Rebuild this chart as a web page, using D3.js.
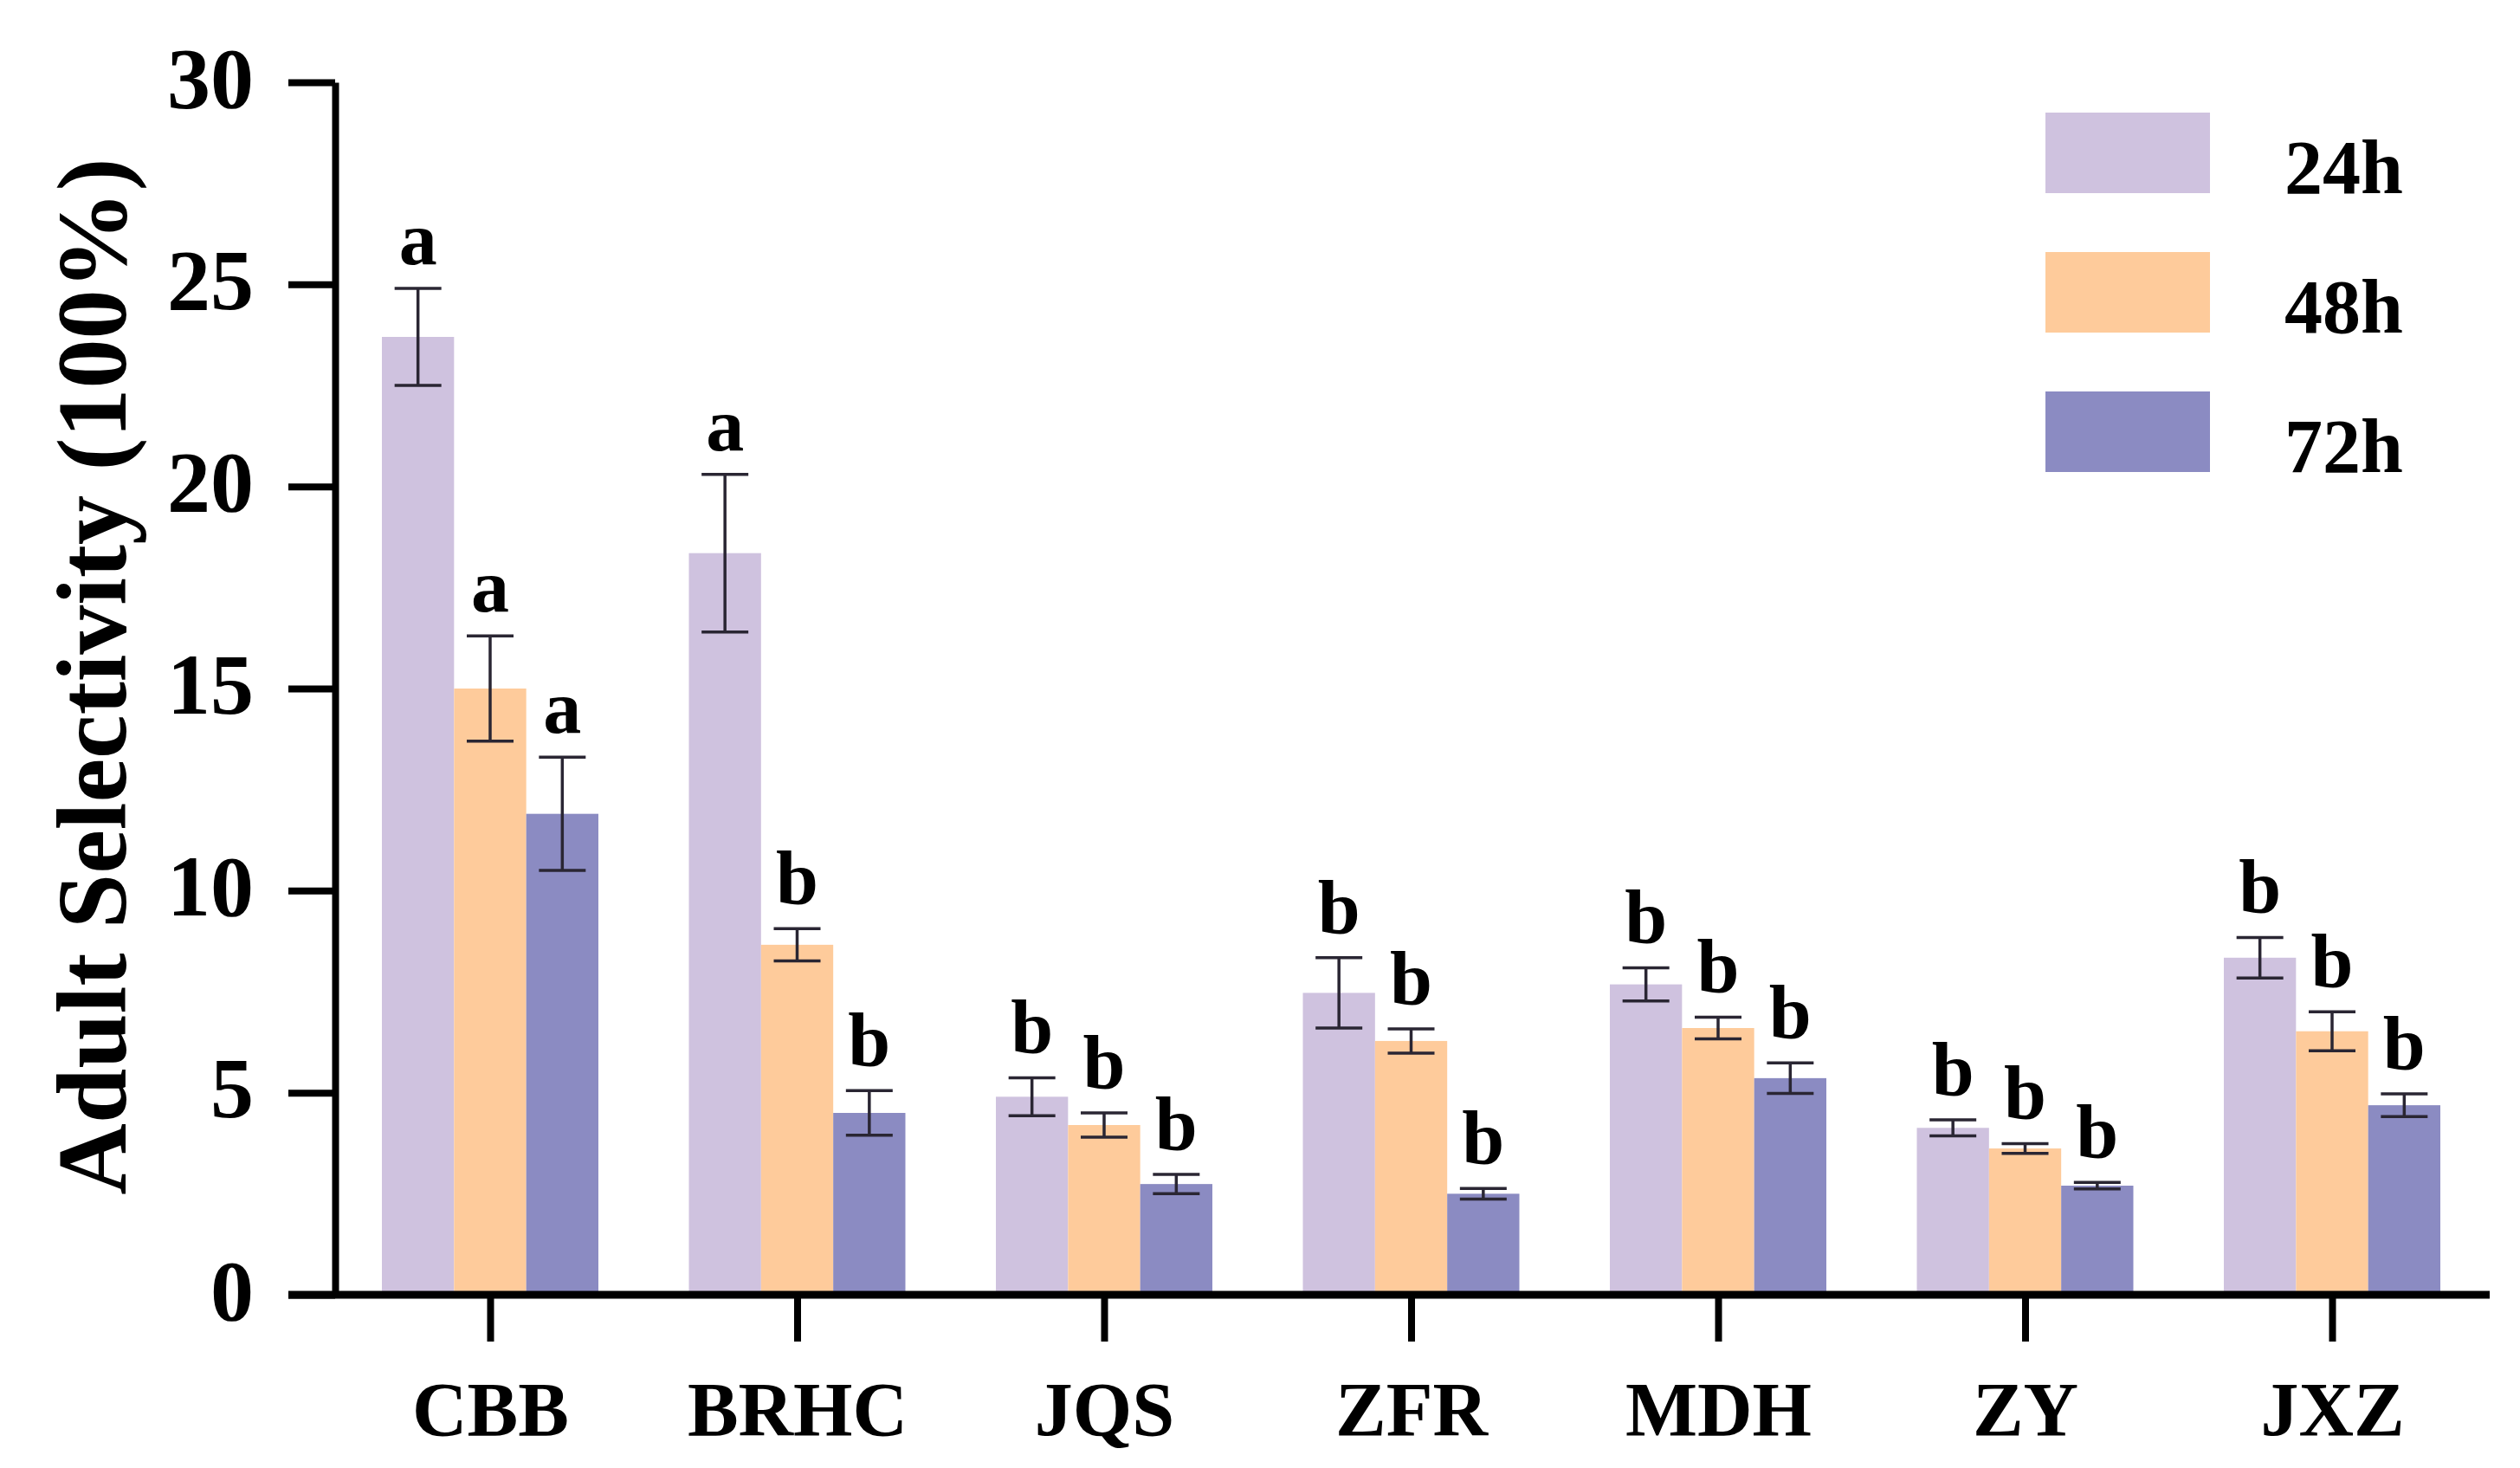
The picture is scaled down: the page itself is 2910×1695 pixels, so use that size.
<!DOCTYPE html>
<html>
<head>
<meta charset="utf-8">
<script src="https://cdn.jsdelivr.net/npm/d3@7"></script>
<style>
  body { margin: 0; background: #fff; }
  text { font-family: "Liberation Serif", "Times New Roman", serif; font-weight: bold; }
</style>
</head>
<body>
<svg id="chart" width="2910" height="1695"></svg>
<script>
// Data
const categories = ['CBB', 'BRHC', 'JQS', 'ZFR', 'MDH', 'ZY', 'JXZ'];
const series = ['24h', '48h', '72h'];
const mean24 = [23.7, 18.35, 4.9, 7.47, 7.68, 4.13, 8.34];
const mean48 = [15.0, 8.66, 4.2, 6.28, 6.6, 3.62, 6.52];
const mean72 = [11.9, 4.5, 2.74, 2.5, 5.36, 2.7, 4.69];
const err24 = [1.2, 1.95, 0.47, 0.87, 0.41, 0.2, 0.5];
const err48 = [1.3, 0.4, 0.3, 0.3, 0.27, 0.12, 0.48];
const err72 = [1.4, 0.55, 0.24, 0.13, 0.38, 0.08, 0.28];
const letters24 = ['a', 'a', 'b', 'b', 'b', 'b', 'b'];
const letters48 = ['a', 'b', 'b', 'b', 'b', 'b', 'b'];
const letters72 = ['a', 'b', 'b', 'b', 'b', 'b', 'b'];
const yTicks = [0, 5, 10, 15, 20, 25, 30];
const colors = ['#cfc2df', '#fecb9b', '#8b8bc2'];

const means = [mean24, mean48, mean72];
const errs = [err24, err48, err72];
const letters = [letters24, letters48, letters72];

const stage = d3.select('#chart');

// Scales
const y = d3.scaleLinear().domain([0, 30]).range([1495, 95]);
const x = d3.scalePoint().domain(categories).range([566, 2693]);
const xs = d3.scaleBand().domain(series).range([-125, 125]);
const color = d3.scaleOrdinal().domain(series).range(colors);

// One record per bar
const bars = [];
categories.forEach((c, i) => {
  series.forEach((s, j) => {
    bars.push({cat: c, s, v: means[j][i], e: errs[j][i], l: letters[j][i]});
  });
});
const cx = d => x(d.cat) + xs(d.s) + xs.bandwidth() / 2;
const cap = 27;

// Bars
stage.append('g').selectAll('rect')
  .data(bars)
  .join('rect')
  .attr('x', d => x(d.cat) + xs(d.s))
  .attr('width', xs.bandwidth())
  .attr('y', d => y(d.v))
  .attr('height', d => y(0) - y(d.v))
  .style('fill', d => color(d.s));

// Error bars
const eb = stage.append('g')
  .style('stroke', '#2a2633')
  .style('stroke-width', 3.5);
eb.selectAll('line.v')
  .data(bars)
  .join('line')
  .attr('class', 'v')
  .attr('x1', cx).attr('x2', cx)
  .attr('y1', d => y(d.v + d.e))
  .attr('y2', d => y(d.v - d.e));
eb.selectAll('line.t')
  .data(bars)
  .join('line')
  .attr('class', 't')
  .attr('x1', d => cx(d) - cap).attr('x2', d => cx(d) + cap)
  .attr('y1', d => y(d.v + d.e)).attr('y2', d => y(d.v + d.e));
eb.selectAll('line.b')
  .data(bars)
  .join('line')
  .attr('class', 'b')
  .attr('x1', d => cx(d) - cap).attr('x2', d => cx(d) + cap)
  .attr('y1', d => y(d.v - d.e)).attr('y2', d => y(d.v - d.e));

// Significance letters
stage.append('g').selectAll('text')
  .data(bars)
  .join('text')
  .attr('x', cx)
  .attr('y', d => y(d.v + d.e) - 28)
  .style('text-anchor', 'middle')
  .style('font-size', '88px')
  .text(d => d.l);

// Y axis
const yAxis = stage.append('g')
  .attr('transform', 'translate(387,0)')
  .call(d3.axisLeft(y).tickValues(yTicks).tickSize(54).tickSizeOuter(0).tickPadding(40));
yAxis.select('.domain').style('stroke', '#000').style('stroke-width', 8);
yAxis.selectAll('.tick line').style('stroke', '#000').style('stroke-width', 8);
yAxis.selectAll('.tick text')
  .attr('dy', '0.28em')
  .style('font-size', '100px')
  .style('font-family', '"Liberation Serif", serif')
  .style('font-weight', 'bold')
  .style('fill', '#000');

// X axis
const xAxis = stage.append('g')
  .attr('transform', `translate(0,${y(0)})`)
  .call(d3.axisBottom(x).tickSize(54).tickSizeOuter(0).tickPadding(46));
xAxis.select('.domain').remove();
xAxis.append('line')
  .attr('x1', 333).attr('x2', 2875)
  .attr('y1', 0).attr('y2', 0)
  .style('stroke', '#000').style('stroke-width', 9);
xAxis.selectAll('.tick line').style('stroke', '#000').style('stroke-width', 8);
xAxis.selectAll('.tick text')
  .style('font-size', '88px')
  .style('font-family', '"Liberation Serif", serif')
  .style('font-weight', 'bold')
  .style('fill', '#000');

// Y axis title
stage.append('text')
  .attr('transform', 'translate(145,781) rotate(-90)')
  .style('text-anchor', 'middle')
  .style('font-size', '114px')
  .text('Adult Selectivity (100%)');

// Legend
const legend = stage.append('g').selectAll('g')
  .data(series)
  .join('g')
  .attr('transform', (d, i) => `translate(2362,${130 + i * 161})`);
legend.append('rect')
  .attr('width', 190)
  .attr('height', 93)
  .style('fill', d => color(d));
legend.append('text')
  .attr('x', 276)
  .attr('y', 93)
  .style('font-size', '88px')
  .text(d => d);
</script>
</body>
</html>
